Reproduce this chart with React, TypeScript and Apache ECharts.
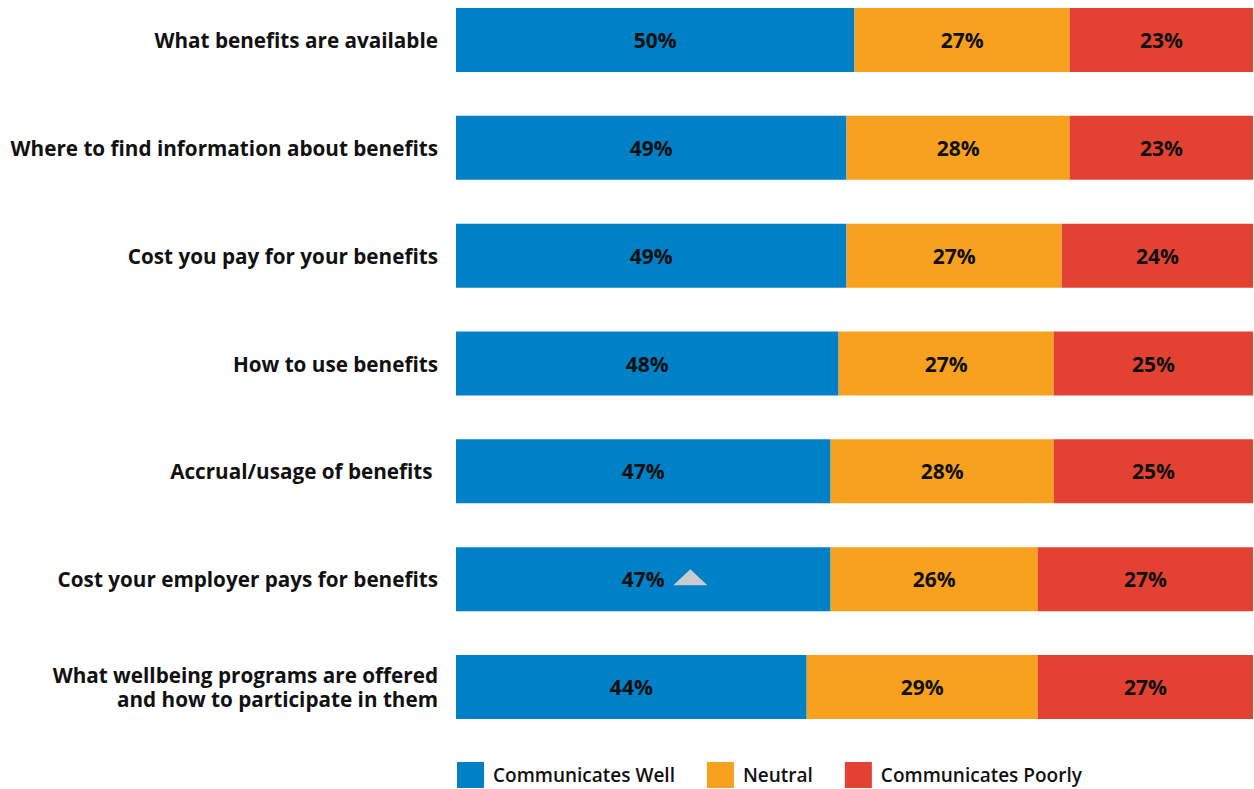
import React, { useEffect, useRef } from "react";
import * as echarts from "echarts";

const categories = [
  "What benefits are available",
  "Where to find information about benefits",
  "Cost you pay for your benefits",
  "How to use benefits",
  "Accrual/usage of benefits ",
  "Cost your employer pays for benefits",
  "What wellbeing programs are offered\nand how to participate in them",
];
const wellValues = [50, 49, 49, 48, 47, 47, 44];
const neutralValues = [27, 28, 27, 27, 28, 26, 29];
const poorValues = [23, 23, 24, 25, 25, 27, 27];
const seriesNames = ["Communicates Well", "Neutral", "Communicates Poorly"];
const colors = ["#0080C6", "#F7A11F", "#E34132"];
const markerCategory = "Cost your employer pays for benefits";
const markerValue = 29.4;

const FONT = "'Open Sans', 'Noto Sans', sans-serif";

export default function App() {
  const ref = useRef<HTMLDivElement>(null);
  useEffect(() => {
    if (!ref.current) return;
    const chart = echarts.init(ref.current, undefined, { renderer: "svg" });
    const values = [wellValues, neutralValues, poorValues];
    chart.setOption({
      animation: false,
      textStyle: { fontFamily: FONT },
      grid: {
        left: 456,
        right: 1,
        top: -14,
        height: 755,
        containLabel: false,
        outerBoundsMode: "none",
      },
      xAxis: { type: "value", min: 0, max: 100, show: false },
      yAxis: {
        type: "category",
        inverse: true,
        data: categories,
        axisLine: { show: false },
        axisTick: { show: false },
        axisLabel: {
          margin: 18,
          color: "#111",
          fontSize: 20.7,
          fontWeight: "bold",
          fontFamily: FONT,
          align: "right",
          lineHeight: 24,
        },
      },
      legend: {
        left: 457,
        top: 762,
        padding: 0,
        itemWidth: 27,
        itemHeight: 26,
        itemGap: 32,
        icon: "rect",
        textStyle: {
          fontSize: 19,
          fontWeight: 600,
          color: "#111",
          fontFamily: FONT,
          padding: [0, 0, 0, 4],
        },
        data: seriesNames,
      },
      series: seriesNames.map((name, i) => ({
        name,
        type: "bar",
        stack: "total",
        barWidth: 64,
        data: values[i],
        itemStyle: { color: colors[i] },
        label: {
          show: true,
          position: "inside",
          formatter: "{c}%",
          color: "#111",
          fontSize: 21,
          fontWeight: "bold",
          fontFamily: FONT,
        },
        ...(i === 0
          ? {
              markPoint: {
                symbol: "triangle",
                symbolSize: [34, 16],
                symbolOffset: [0, -2],
                label: { show: false },
                itemStyle: { color: "#C8CCCE" },
                data: [{ coord: [markerValue, markerCategory] }],
              },
            }
          : {}),
      })),
    });
    return () => chart.dispose();
  }, []);
  return <div ref={ref} style={{ width: 1254, height: 789, position: "absolute", left: 0, top: 0 }} />;
}
